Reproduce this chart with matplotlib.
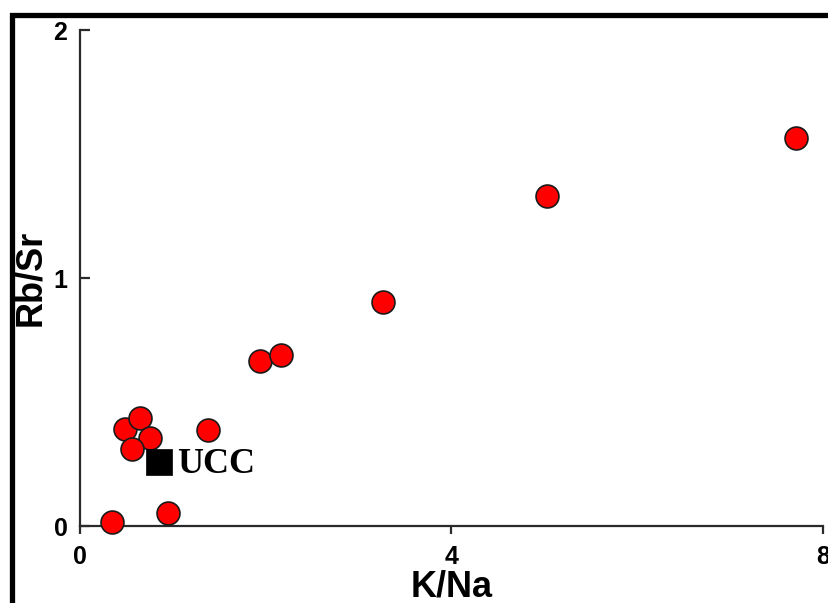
import matplotlib
matplotlib.use("Agg")
import matplotlib.pyplot as plt
from matplotlib.patches import Rectangle

# Sample ratios
k_na = [0.34, 0.95, 0.48, 0.65, 0.75, 0.56, 1.38, 1.94, 2.16, 3.26, 5.03, 7.71]
rb_sr = [0.016, 0.054, 0.391, 0.435, 0.355, 0.31, 0.387, 0.665, 0.69, 0.903, 1.331, 1.565]

# Upper continental crust reference
ucc_k_na = [0.85]
ucc_rb_sr = [0.26]
ucc_label = "UCC"

x_ticks = [0, 4, 8]
y_ticks = [0, 1, 2]

plt.rcParams["font.family"] = ["Liberation Sans", "DejaVu Sans"]

fig = plt.figure(figsize=(8.29, 6.03), dpi=100)
ax = fig.add_axes([80 / 829, 1 - 526 / 603, (823 - 80) / 829, (526 - 30) / 603])

# Thick outer frame (runs past the right and bottom edges)
fig.patches.append(Rectangle((12.5 / 829, -0.1), 1.2, (603 - 14.8) / 603 + 0.1,
                             transform=fig.transFigure, fill=False,
                             edgecolor="black", linewidth=3.8, zorder=10))

ax.scatter(k_na, rb_sr, s=16.5 ** 2, facecolor="#ff0000", edgecolor="#1a1a1a",
           linewidth=1.2, zorder=3, clip_on=False)
ax.scatter(ucc_k_na, ucc_rb_sr, s=19 ** 2, marker="s", facecolor="black",
           edgecolor="black", linewidth=0.5, zorder=4, clip_on=False)
ax.annotate(ucc_label, (ucc_k_na[0], ucc_rb_sr[0]), xytext=(13, -2),
            textcoords="offset points", ha="left", va="center",
            fontsize=26, fontweight="bold", family="Liberation Serif")

ax.set_xlim(0, 8)
ax.set_ylim(0, 2)
ax.set_xticks(x_ticks)
ax.set_yticks(y_ticks)
ax.set_xticklabels([str(v) for v in x_ticks])
ax.set_yticklabels([str(v) for v in y_ticks])

for side in ("top", "right"):
    ax.spines[side].set_visible(False)
for side in ("left", "bottom"):
    ax.spines[side].set_linewidth(1.6)
    ax.spines[side].set_color("#2a2a2a")

ax.tick_params(axis="x", direction="out", length=6, width=1.6, color="#2a2a2a",
               pad=8, labelsize=18)
ax.tick_params(axis="y", direction="in", length=7, width=1.6, color="#2a2a2a",
               pad=9, labelsize=18)
for lab in ax.get_xticklabels() + ax.get_yticklabels():
    lab.set_fontweight("bold")

ax.set_xlabel("K/Na", fontsize=26, fontweight="bold", labelpad=0)
ax.set_ylabel("Rb/Sr", fontsize=26, fontweight="bold", labelpad=4)

fig.savefig("out.png", dpi=100)
